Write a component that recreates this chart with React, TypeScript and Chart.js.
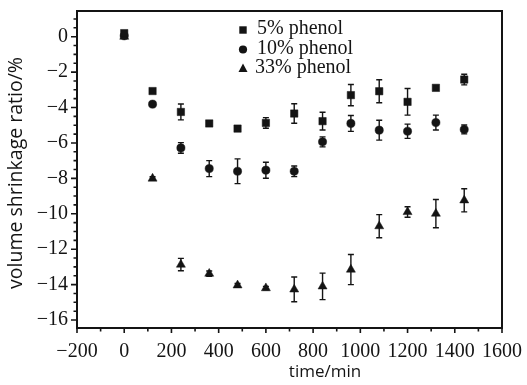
import React, { useEffect, useRef } from 'react';
import { Chart, registerables } from 'chart.js';

Chart.register(...registerables);

const times = [0, 120, 240, 360, 480, 600, 720, 840, 960, 1080, 1200, 1320, 1440];
const phenol5 = [0.2, -3.07, -4.25, -4.9, -5.19, -4.87, -4.34, -4.77, -3.3, -3.08, -3.68, -2.89, -2.42];
const err5 = [0, 0, 0.45, 0.15, 0.15, 0.3, 0.55, 0.5, 0.6, 0.65, 0.75, 0, 0.3];
const phenol10 = [0.05, -3.81, -6.28, -7.45, -7.6, -7.54, -7.6, -5.94, -4.9, -5.28, -5.34, -4.85, -5.24];
const err10 = [0, 0, 0.3, 0.45, 0.7, 0.45, 0.3, 0.28, 0.45, 0.56, 0.4, 0.42, 0.25];
const phenol33 = [0, -8.01, -12.87, -13.38, -14.04, -14.2, -14.27, -14.1, -13.15, -10.7, -9.9, -9.99, -9.24];
const err33 = [0, 0.1, 0.35, 0.15, 0.1, 0.1, 0.7, 0.75, 0.85, 0.65, 0.3, 0.8, 0.65];

const xTickValues = [-200, 0, 200, 400, 600, 800, 1000, 1200, 1400, 1600];
const yTickValues = [-16, -14, -12, -10, -8, -6, -4, -2, 0];

const seriesLabels = ['5% phenol', '10% phenol', '33% phenol'];
const pointStyles = ['rect', 'circle', 'triangle'];
const xTitle = 'time/min';
const yTitle = 'volume shrinkage ratio/%';

const values = [phenol5, phenol10, phenol33];
const errors = [err5, err10, err33];

const INK = '#141414';
const SERIF = '"Liberation Serif", "Times New Roman", serif';
const SANS = '"Open Sans", "Noto Sans", sans-serif';

const fmt = (v: number) => (v < 0 ? '\u2212' + String(Math.abs(v)) : String(v));

function drawMarker(ctx: CanvasRenderingContext2D, style: string, x: number, y: number) {
  ctx.beginPath();
  if (style === 'rect') {
    ctx.rect(x - 3.7, y - 3.7, 7.4, 7.4);
  } else if (style === 'circle') {
    ctx.arc(x, y, 4.1, 0, Math.PI * 2);
  } else {
    ctx.moveTo(x, y - 4.9);
    ctx.lineTo(x + 4.5, y + 3.5);
    ctx.lineTo(x - 4.5, y + 3.5);
    ctx.closePath();
  }
  ctx.fill();
}

const errorBarPlugin = {
  id: 'errorBars',
  beforeDatasetsDraw(chart: any) {
    const ctx = chart.ctx as CanvasRenderingContext2D;
    const ys = chart.scales.y;
    ctx.save();
    ctx.strokeStyle = INK;
    ctx.lineWidth = 1.4;
    chart.data.datasets.forEach((_ds: any, i: number) => {
      const meta = chart.getDatasetMeta(i);
      meta.data.forEach((pt: any, j: number) => {
        const e = errors[i][j];
        if (!e) return;
        const v = values[i][j];
        const t = ys.getPixelForValue(v + e);
        const b = ys.getPixelForValue(v - e);
        const x = pt.x;
        ctx.beginPath();
        ctx.moveTo(x, t);
        ctx.lineTo(x, b);
        ctx.moveTo(x - 3, t);
        ctx.lineTo(x + 3, t);
        ctx.moveTo(x - 3, b);
        ctx.lineTo(x + 3, b);
        ctx.stroke();
      });
    });
    ctx.restore();
  },
};

const framePlugin = {
  id: 'frame',
  afterDraw(chart: any) {
    const ctx = chart.ctx as CanvasRenderingContext2D;
    const { left, right, top, bottom } = chart.chartArea;
    const xs = chart.scales.x;
    const ys = chart.scales.y;
    ctx.save();
    ctx.strokeStyle = INK;
    ctx.lineWidth = 2;
    ctx.strokeRect(left, top, right - left, bottom - top);
    ctx.lineWidth = 1.6;
    ctx.beginPath();
    for (let k = Math.ceil(ys.min * 2); k <= Math.floor(ys.max * 2); k++) {
      const v = k / 2;
      const py = ys.getPixelForValue(v);
      const len = k % 4 === 0 ? 6 : 3.5;
      ctx.moveTo(left, py);
      ctx.lineTo(left - len, py);
    }
    for (let v = xs.min; v <= xs.max; v += 100) {
      const px = xs.getPixelForValue(v);
      const len = v % 200 === 0 ? 5 : 3.5;
      ctx.moveTo(px, bottom);
      ctx.lineTo(px, bottom + len);
    }
    ctx.stroke();

    // legend
    ctx.fillStyle = INK;
    const legendY = [29, 48.5, 67.5];
    ctx.font = `20px ${SERIF}`;
    ctx.textBaseline = 'middle';
    ctx.textAlign = 'left';
    seriesLabels.forEach((lab, i) => {
      drawMarker(ctx, pointStyles[i], 243, legendY[i] + 1);
      ctx.fillText(lab, i === 2 ? 255 : 257, legendY[i]);
    });

    // axis titles
    ctx.textAlign = 'center';
    ctx.textBaseline = 'middle';
    ctx.font = `17px ${SANS}`;
    ctx.fillText(xTitle, 325, 372);
    ctx.font = `19.5px ${SANS}`;
    ctx.save();
    ctx.translate(16, 173);
    ctx.rotate(-Math.PI / 2);
    ctx.fillText(yTitle, 0, 0);
    ctx.restore();
    ctx.restore();
  },
};

export default function App() {
  const ref = useRef<HTMLCanvasElement | null>(null);
  useEffect(() => {
    document.body.style.margin = '0';
    const canvas = ref.current;
    if (!canvas) return;
    const datasets = values.map((vals, i) => ({
      label: seriesLabels[i],
      data: vals.map((v, j) => ({ x: times[j], y: v })),
      pointStyle: pointStyles[i],
      pointRadius: i === 0 ? 5.2 : i === 1 ? 4.1 : 5.2,
      pointBackgroundColor: INK,
      pointBorderColor: INK,
      pointBorderWidth: 0.5,
      showLine: false,
    }));
    const tickFont = { family: SERIF, size: 20 };
    const chart = new Chart(canvas, {
      type: 'scatter',
      data: { datasets },
      plugins: [errorBarPlugin, framePlugin],
      options: {
        animation: false,
        responsive: false,
        layout: { padding: { top: 11, right: 25, left: 0, bottom: 0 } },
        plugins: { legend: { display: false }, tooltip: { enabled: false } },
        scales: {
          x: {
            type: 'linear',
            min: -200,
            max: 1600,
            afterBuildTicks: (s: any) => {
              s.ticks = xTickValues.map((v) => ({ value: v }));
            },
            ticks: {
              font: tickFont,
              color: INK,
              padding: 12,
              maxRotation: 0,
              autoSkip: false,
              callback: (v: any) => fmt(Number(v)),
            },
            grid: { display: false, drawTicks: false },
            border: { display: false },
            afterFit: (s: any) => {
              s.height = 57;
              s.paddingLeft = 0;
              s.paddingRight = 0;
            },
          },
          y: {
            type: 'linear',
            min: -16.45,
            max: 1.45,
            afterBuildTicks: (s: any) => {
              s.ticks = yTickValues.map((v) => ({ value: v }));
            },
            ticks: {
              font: tickFont,
              color: INK,
              padding: 9,
              autoSkip: false,
              callback: (v: any) => fmt(Number(v)),
            },
            grid: { display: false, drawTicks: false },
            border: { display: false },
            afterFit: (s: any) => {
              s.width = 77;
              s.paddingTop = 0;
              s.paddingBottom = 0;
            },
          },
        },
      } as any,
    });
    return () => chart.destroy();
  }, []);
  return (
    <div style={{ width: 527, height: 385, background: '#fff' }}>
      <canvas ref={ref} width={527} height={385} style={{ display: 'block' }} />
    </div>
  );
}
